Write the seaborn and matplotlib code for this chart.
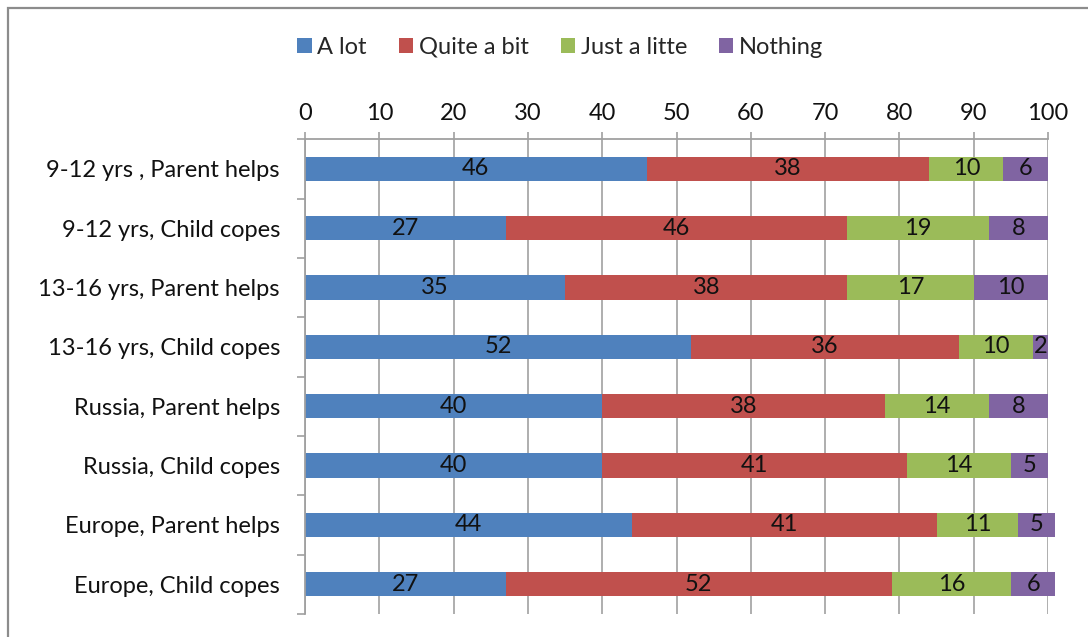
import numpy as np
import pandas as pd
import seaborn as sns
import matplotlib.pyplot as plt
from matplotlib.patches import Rectangle
from matplotlib.ticker import MultipleLocator, FixedLocator

# data
groups = ["9-12 yrs , Parent helps", "9-12 yrs, Child copes",
          "13-16 yrs, Parent helps", "13-16 yrs, Child copes",
          "Russia, Parent helps", "Russia, Child copes",
          "Europe, Parent helps", "Europe, Child copes"]
series = ["A lot", "Quite a bit", "Just a litte", "Nothing"]
a_lot = [46, 27, 35, 52, 40, 40, 44, 27]
quite_a_bit = [38, 46, 38, 36, 38, 41, 41, 52]
just_a_little = [10, 19, 17, 10, 14, 14, 11, 16]
nothing = [6, 8, 10, 2, 8, 5, 5, 6]
colors = ["#4F81BD", "#C0504D", "#9BBB59", "#8064A2"]

df = pd.DataFrame({"group": groups, "A lot": a_lot, "Quite a bit": quite_a_bit,
                   "Just a litte": just_a_little, "Nothing": nothing})
cum = df[series].cumsum(axis=1)

sns.set_theme(style="white")
plt.rcParams["font.family"] = ["Lato", "DejaVu Sans"]
fs = 17
txt = "#111111"

fig = plt.figure(figsize=(10.88, 6.37), dpi=100)
ax = fig.add_axes([305 / 1088, 1 - 614 / 637, 743 / 1088, (614 - 139.3) / 637])

# stacked bars: draw cumulative totals from the last series backwards
for s, c in reversed(list(zip(series, colors))):
    sns.barplot(x=cum[s], y=df["group"], order=groups, orient="h", color=c,
                saturation=1, width=0.41, edgecolor="none", ax=ax, label=s)
for p in ax.patches:
    p.set_clip_on(False)

# value labels in the middle of each segment
for s in series:
    left = cum[s] - df[s]
    for i, v in enumerate(df[s]):
        ax.text(left[i] + v / 2, i, str(v), ha="center", va="center",
                fontsize=fs, color=txt)

ax.set_xlim(0, 100)
ax.set_ylim(7.5, -0.5)
ax.set_xlabel("")
ax.set_ylabel("")

ax.xaxis.tick_top()
ax.xaxis.set_major_locator(MultipleLocator(10))
ax.tick_params(axis="x", which="major", length=5, width=1.2, color="#a0a0a0",
               pad=6, labelsize=fs, labelcolor=txt, direction="out")
ax.grid(axis="x", color="#a8a8a8", linewidth=1.3)
ax.set_axisbelow(True)

ax.yaxis.set_minor_locator(FixedLocator(np.arange(-0.5, 8, 1)))
ax.tick_params(axis="y", which="major", length=0, pad=18, labelsize=fs,
               labelcolor=txt)
ax.tick_params(axis="y", which="minor", left=True, length=6, width=1.2,
               color="#a0a0a0")

for side in ["bottom", "right"]:
    ax.spines[side].set_visible(False)
for side in ["top", "left"]:
    ax.spines[side].set_color("#a0a0a0")
    ax.spines[side].set_linewidth(1.3)

# legend above the axis
handles, labels = ax.get_legend_handles_labels()
order = [labels.index(s) for s in series]
if ax.legend_:
    ax.legend_.remove()
fig.legend([handles[i] for i in order], series, loc="center",
           bbox_to_anchor=(0.515, 1 - 47 / 637), ncol=4, frameon=False,
           fontsize=fs, handlelength=0.6, handleheight=0.6, handletextpad=0.25,
           columnspacing=1.35)

# chart border (only the top and left edges are inside the image)
fig.patches.append(Rectangle((8 / 1088, -0.1), 1.2, 1 - 8 / 637 + 0.1,
                             transform=fig.transFigure, fill=False,
                             edgecolor="#8c8c8c", linewidth=1.6))

fig.savefig("out.png", dpi=100)
